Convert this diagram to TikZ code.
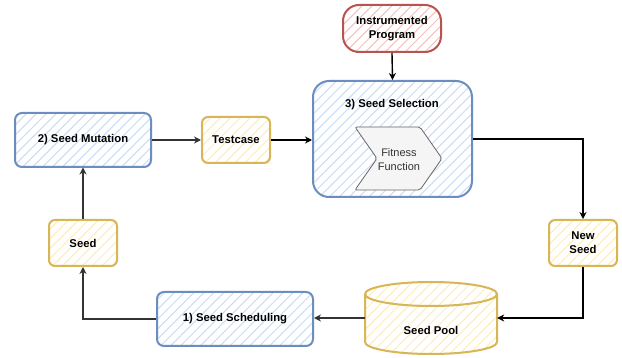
\documentclass[tikz,border=0pt]{standalone}
\usepackage{fontspec}
\setmainfont{Liberation Sans}
\usetikzlibrary{patterns.meta,arrows.meta}
\definecolor{bluestroke}{HTML}{6C8EBF}
\definecolor{bluefill}{HTML}{C9DCF6}
\definecolor{yelstroke}{HTML}{D6B656}
\definecolor{yelfill}{HTML}{FFECB8}
\definecolor{redstroke}{HTML}{B85450}
\definecolor{redfill}{HTML}{F5C0BE}
\definecolor{fitfill}{HTML}{F5F5F5}
\definecolor{fitstroke}{HTML}{666666}
\definecolor{fittext}{HTML}{333333}
\definecolor{darkarrow}{HTML}{333333}
\tikzset{
  lbl/.style={font=\fontsize{11.3}{14}\selectfont\bfseries, align=center},
  hatch/.style={pattern={Lines[angle=45,distance=7pt,line width=1pt]}, pattern color=#1},
  bluebox/.style={draw=bluestroke, line width=2pt, hatch=bluefill, rounded corners=7pt, lbl},
  yelbox/.style={draw=yelstroke, line width=2pt, hatch=yelfill, rounded corners=6pt, lbl},
  redbox/.style={draw=redstroke, line width=2pt, hatch=redfill, rounded corners=16pt, lbl},
  conn/.style={line width=1.4pt, -{Stealth[length=7pt,width=7pt]}},
  dconn/.style={conn, draw=darkarrow},
}
\begin{document}
\begin{tikzpicture}[x=1pt,y=-1pt]
\fill[white] (0,0) rectangle (622,358);
\useasboundingbox (0,0) rectangle (622,358);

\node[bluebox, minimum width=136pt, minimum height=54pt] (mut) at (83,140) {2) Seed Mutation};
\node[yelbox, minimum width=68pt, minimum height=46pt] (test) at (236,140) {Testcase};
\node[redbox, minimum width=98pt, minimum height=47pt] (instr) at (392,28.5) {Instrumented\\Program};
\node[bluebox, rounded corners=16pt, minimum width=159pt, minimum height=116pt] (sel) at (392.5,139) {};
\node[lbl] (seltitle) at (392,105) {3) Seed Selection};
\draw[fill=fitfill, draw=fitstroke, line width=0.8pt, rounded corners=2pt]
  (355,127) -- (420,127) -- (442,158.5) -- (420,190) -- (355,190) -- (377,158.5) -- cycle;
\node[font=\fontsize{11}{14}\selectfont, text=fittext, align=center] (fit) at (399,159.5) {Fitness\\Function};
\node[yelbox, minimum width=68pt, minimum height=46pt] (new) at (583,243) {New\\Seed};

% Seed pool cylinder
\node[minimum width=132pt, minimum height=72pt, inner sep=0pt] (pool) at (431,318) {};
\draw[draw=yelstroke, line width=2pt, hatch=yelfill]
  (365,294) -- (365,342) arc[start angle=180, end angle=360, x radius=66pt, y radius=12pt]
  -- (497,294) arc[start angle=0, end angle=180, x radius=66pt, y radius=12pt] -- cycle;
\draw[draw=yelstroke, line width=2pt]
  (365,294) arc[start angle=180, end angle=360, x radius=66pt, y radius=12pt];
\node[lbl] (pooltext) at (431,330) {Seed Pool};

\node[bluebox, minimum width=156pt, minimum height=54pt] (sch) at (235,319) {1) Seed Scheduling};
\node[yelbox, minimum width=68pt, minimum height=46pt] (seed) at (83,243) {Seed};

% connectors
\draw[dconn] (mut.east) -- (test.west);
\draw[conn] (test.east) -- (sel.west |- test.east);
\draw[conn] (instr.south) -- (sel.north);
\draw[conn] (sel.east) -| (new.north);
\draw[conn] (new.south) |- (pool.east);
\draw[dconn] (pool.west) -- (sch.east |- pool.west);
\draw[dconn] (sch.west) -| (seed.south);
\draw[dconn] (seed.north) -- (mut.south);
\end{tikzpicture}
\end{document}
